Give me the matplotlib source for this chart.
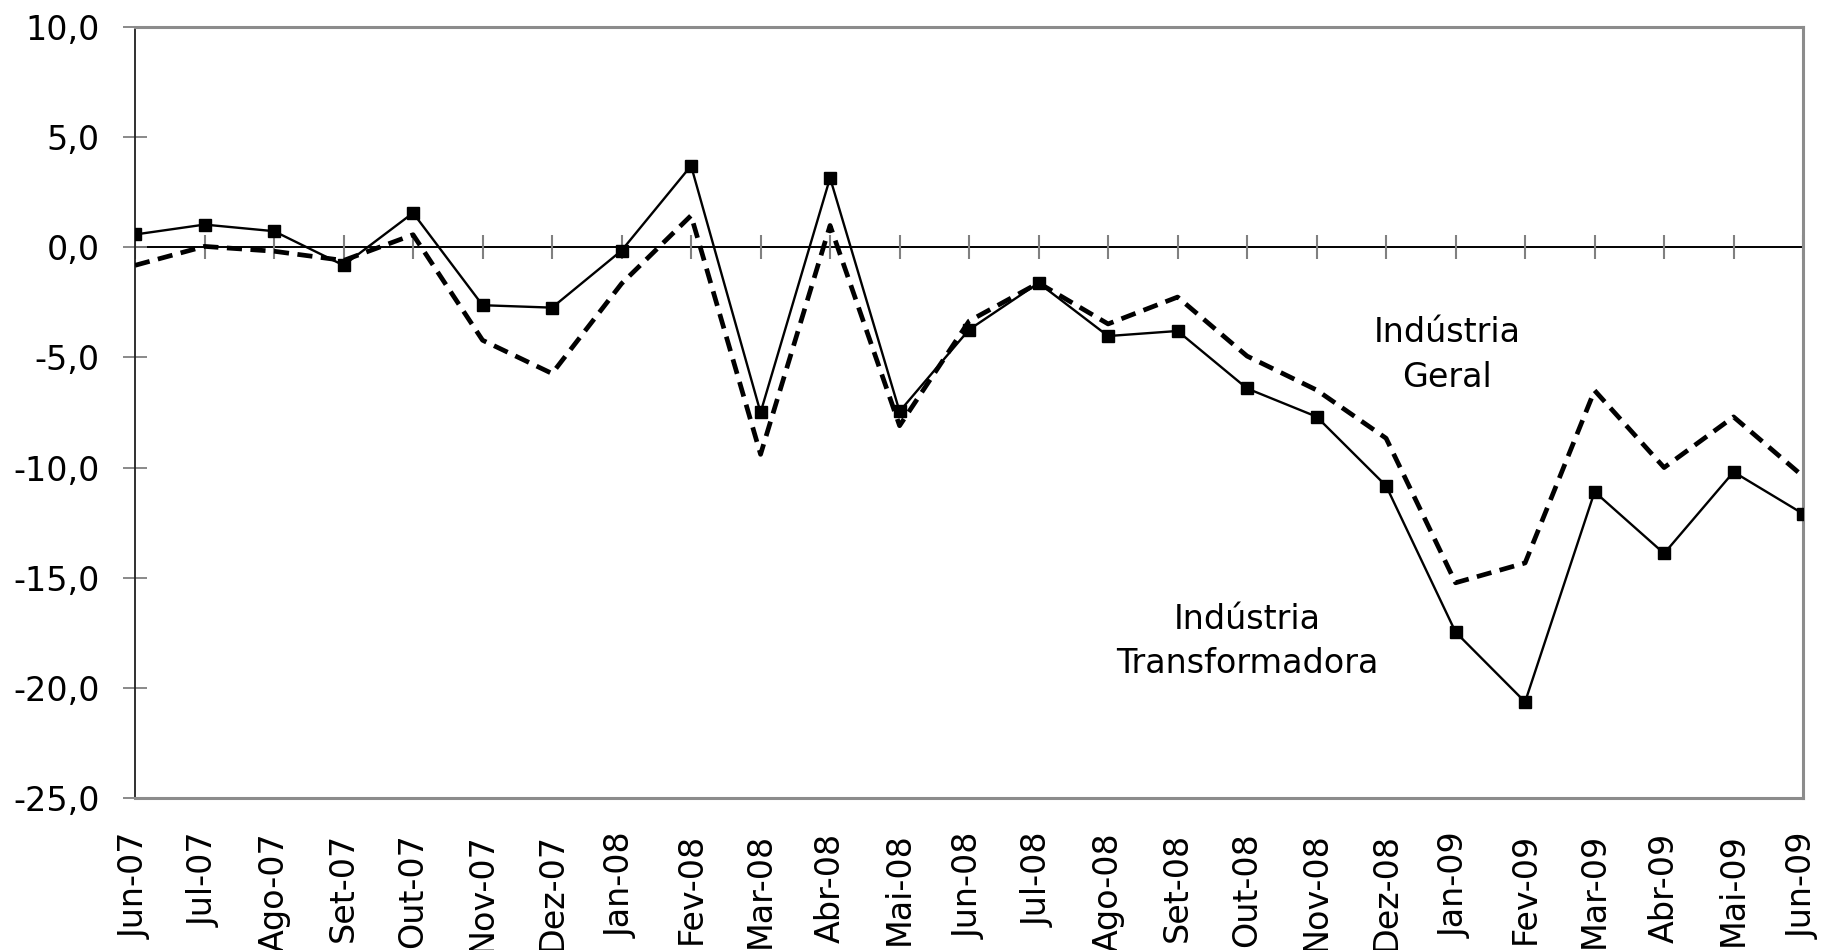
import matplotlib
matplotlib.use('Agg')
from matplotlib import pyplot as plt
import numpy as np

months = ['Jun-07', 'Jul-07', 'Ago-07', 'Set-07', 'Out-07', 'Nov-07', 'Dez-07',
          'Jan-08', 'Fev-08', 'Mar-08', 'Abr-08', 'Mai-08', 'Jun-08', 'Jul-08',
          'Ago-08', 'Set-08', 'Out-08', 'Nov-08', 'Dez-08', 'Jan-09', 'Fev-09',
          'Mar-09', 'Abr-09', 'Mai-09', 'Jun-09']

# Industria Transformadora (solid, square markers)
transformadora = [0.58, 1.03, 0.73, -0.82, 1.56, -2.63, -2.74,
                  -0.15, 3.70, -7.50, 3.15, -7.45, -3.74, -1.62,
                  -4.03, -3.80, -6.41, -7.69, -10.83, -17.47, -20.64,
                  -11.10, -13.90, -10.20, -12.10]

# Industria Geral (dashed)
geral = [-0.82, 0.04, -0.18, -0.60, 0.57, -4.22, -5.73,
         -1.65, 1.44, -9.40, 0.99, -8.10, -3.35, -1.62,
         -3.48, -2.26, -4.94, -6.48, -8.67, -15.23, -14.33,
         -6.50, -10.00, -7.70, -10.40]

yticks = [10, 5, 0, -5, -10, -15, -20, -25]

plt.rcParams['font.family'] = ['DejaVu Sans']

fig = plt.figure(figsize=(18.25, 9.5), dpi=100)
ax = fig.add_axes([0.074, 0.16, 0.914, 0.8116])

x = np.arange(len(months))

# zero line with crossing tick marks
ax.axhline(0, color='black', linewidth=1.4, zorder=1)
ax.plot(x, np.zeros(len(months)), linestyle='none', marker='|', markersize=17,
        markeredgewidth=1.5, color='#808080', zorder=1)

ax.plot(x, geral, color='black', linewidth=3.4, dashes=(3.2, 1.8), zorder=3)
ax.plot(x, transformadora, color='black', linewidth=1.7, marker='s',
        markersize=9, zorder=4)

ax.text(18.88, -4.9, 'Indústria\nGeral', ha='center', va='center',
        fontsize=24, linespacing=1.45)
ax.text(16.0, -17.9, 'Indústria\nTransformadora', ha='center', va='center',
        fontsize=24, linespacing=1.45)

ax.set_xlim(0, len(months) - 1)
ax.set_ylim(-25, 10)
ax.set_yticks(yticks)
ax.set_yticklabels([('%.1f' % v).replace('.', ',') for v in yticks])
ax.set_xticks(x)
ax.set_xticklabels(months, rotation=90, va='top', ha='center')

ax.tick_params(axis='y', direction='inout', length=17, width=1.3,
               color='#808080', pad=17, labelsize=24)
ax.tick_params(axis='x', length=0, pad=25, labelsize=24)

ax.spines['left'].set_color('#202020')
ax.spines['left'].set_linewidth(1.3)
for side in ['top', 'right', 'bottom']:
    ax.spines[side].set_color('#8c8c8c')
    ax.spines[side].set_linewidth(2.2)

fig.savefig('out.png', dpi=100)
